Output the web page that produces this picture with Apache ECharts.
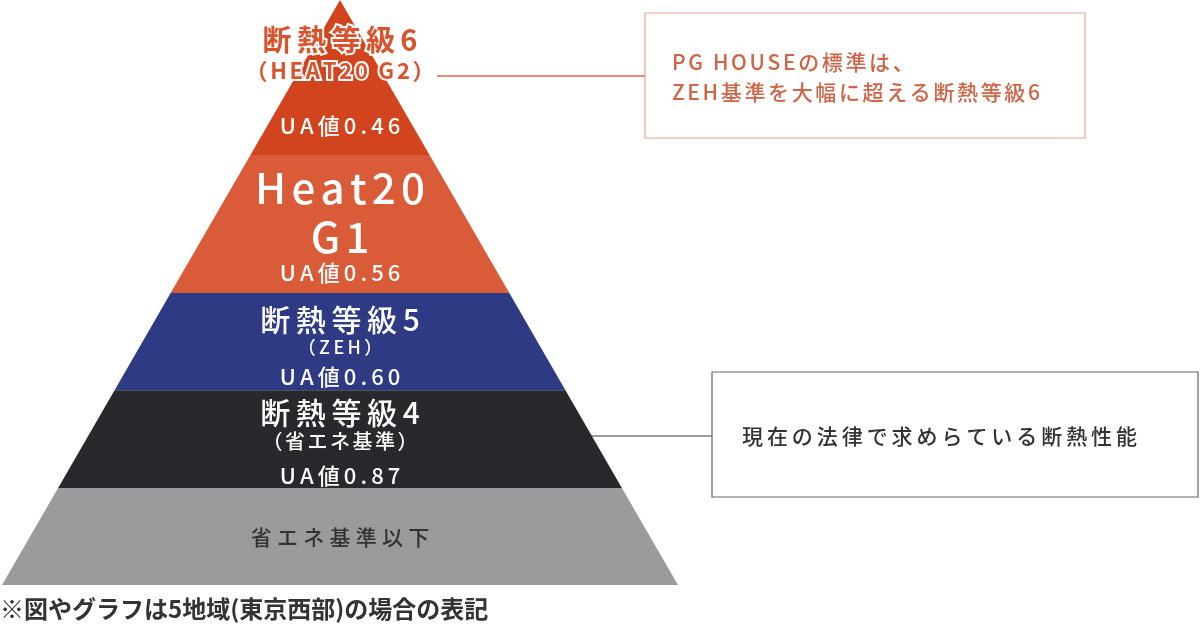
<!DOCTYPE html>
<html><head><meta charset="utf-8">
<script src="https://cdn.jsdelivr.net/npm/echarts@6/dist/echarts.min.js"></script>
<style>html,body{margin:0;padding:0;background:#fff}#c{width:1200px;height:626px}</style>
</head><body><div id="c"></div>
<script>
// ---- data ----
const layerTitles = ['断熱等級6', 'Heat20\nG1', '断熱等級5', '断熱等級4', '省エネ基準以下'];
const layerSubtitles = ['（HEAT20 G2）', '', '（ZEH）', '（省エネ基準）', ''];
const uaValues = ['0.46', '0.56', '0.60', '0.87', ''];
// band extents as fraction of pyramid height (0 = base, 1 = apex)
const bandBottom = [0.735, 0.499, 0.333, 0.166, 0];
const bandTop = [1.0, 0.735, 0.499, 0.333, 0.166];
const calloutTop = ['PG HOUSEの標準は、', 'ZEH基準を大幅に超える断熱等級6'];
const calloutLaw = '現在の法律で求めらている断熱性能';
const footnote = '※図やグラフは5地域(東京西部)の場合の表記';

// ---- styles ----
const FONT = '"Noto Sans CJK JP", "Noto Sans", sans-serif';
const colors = ['#d2441d', '#d95b37', '#2e3a84', '#29292d', '#9b9a9c'];
function sp(s, k) { return s.split('').join('\u200A'.repeat(k)); }

// per layer: line offsets (px from band top) and styles
const lineLayout = [
  { title: { y: [40], size: 29, weight: 'bold', k: 3, color: '#d9532c', stroke: '#fff' },
    sub: { y: 71, size: 22, weight: 'bold', k: 2, color: '#d9532c', stroke: '#fff' }, ua: 126 },
  { title: { y: [33, 82], size: 42, weight: 500, k: 2, color: '#fff' }, ua: 118 },
  { title: { y: [27], size: 30, weight: 500, k: 3, color: '#fff' },
    sub: { y: 54, size: 18, weight: 500, k: 3, color: '#fff' }, ua: 84 },
  { title: { y: [22], size: 30, weight: 500, k: 3, color: '#fff' },
    sub: { y: 51, size: 20, weight: 500, k: 2, color: '#fff' }, ua: 85 },
  { title: { y: [49], size: 21, weight: 500, k: 4, color: '#333' } }
];

const seriesData = bandBottom.map((b, i) => [b, bandTop[i]]);

function renderItem(params, api) {
  const i = params.dataIndex;
  const b = api.value(0), t = api.value(1);
  const p1 = api.coord([-(1 - b), b]);
  const p2 = api.coord([(1 - b), b]);
  const p3 = api.coord([(1 - t), t]);
  const p4 = api.coord([-(1 - t), t]);
  const cx = api.coord([0, t])[0];
  const topY = p4[1];
  const children = [{
    type: 'polygon', shape: { points: [p1, p2, p3, p4] },
    style: { fill: colors[i] }
  }];
  const L = lineLayout[i];
  const titleLines = layerTitles[i].split('\n');
  titleLines.forEach((ln, j) => {
    const st = L.title;
    children.push({
      type: 'text', z2: 10,
      style: {
        text: sp(ln, st.k), x: cx, y: topY + st.y[j], align: 'center', verticalAlign: 'middle',
        fill: st.color, font: st.weight + ' ' + st.size + 'px ' + FONT,
        stroke: st.stroke || null, lineWidth: st.stroke ? 4 : 0
      }
    });
  });
  if (layerSubtitles[i] && L.sub) {
    const st = L.sub;
    children.push({
      type: 'text', z2: 10,
      style: {
        text: sp(layerSubtitles[i], st.k), x: cx, y: topY + st.y, align: 'center', verticalAlign: 'middle',
        fill: st.color, font: st.weight + ' ' + st.size + 'px ' + FONT,
        stroke: st.stroke || null, lineWidth: st.stroke ? 4 : 0
      }
    });
  }
  if (uaValues[i]) {
    children.push({
      type: 'text', z2: 10,
      style: {
        text: sp('UA値' + uaValues[i], 3), x: cx, y: topY + L.ua, align: 'center', verticalAlign: 'middle',
        fill: '#fff', font: '500 22px ' + FONT
      }
    });
  }
  return { type: 'group', children };
}

const chart = echarts.init(document.getElementById('c'));
chart.setOption({
  backgroundColor: '#fff',
  animation: false,
  grid: { left: 2, top: 0, width: 676, height: 585 },
  xAxis: { type: 'value', min: -1, max: 1, show: false },
  yAxis: { type: 'value', min: 0, max: 1, show: false },
  series: [{
    type: 'custom', renderItem, data: seriesData,
    encode: { x: -1, y: [0, 1] }, clip: false
  }],
  graphic: [
    { type: 'line', shape: { x1: 437, y1: 76, x2: 645, y2: 76 }, style: { stroke: '#e0694a', lineWidth: 1.5 }, z: 5 },
    { type: 'rect', shape: { x: 645, y: 13, width: 440, height: 125 }, style: { fill: '#fff', stroke: '#e8a593', lineWidth: 1.2 } },
    { type: 'text', style: { text: sp(calloutTop[0], 2), x: 672, y: 62, verticalAlign: 'middle', fill: '#cf6447', font: '500 21px ' + FONT } },
    { type: 'text', style: { text: sp(calloutTop[1], 2), x: 672, y: 92, verticalAlign: 'middle', fill: '#cf6447', font: '500 21px ' + FONT } },
    { type: 'line', shape: { x1: 584, y1: 436, x2: 712, y2: 436 }, style: { stroke: '#3a3a3a', lineWidth: 1.2 } },
    { type: 'rect', shape: { x: 712, y: 372, width: 486, height: 125 }, style: { fill: '#fff', stroke: '#666', lineWidth: 1.2 } },
    { type: 'text', style: { text: sp(calloutLaw, 3), x: 742, y: 436, verticalAlign: 'middle', fill: '#333', font: '500 21px ' + FONT } },
    { type: 'text', style: { text: footnote, x: 0, y: 609, verticalAlign: 'middle', fill: '#333', font: 'bold 24px ' + FONT } }
  ]
});
</script>
</body></html>
